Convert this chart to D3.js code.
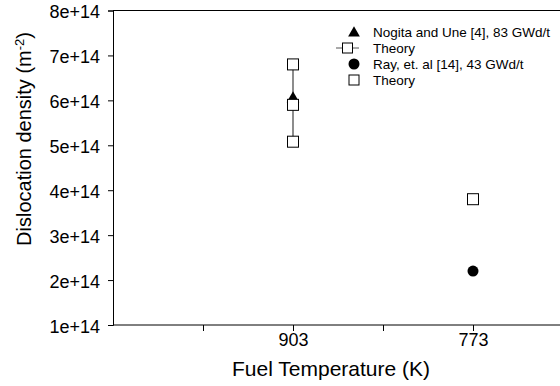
<!DOCTYPE html>
<html>
<head>
<meta charset="utf-8">
<script src="https://cdn.jsdelivr.net/npm/d3@7"></script>
<style>
  body { margin: 0; background: #fff; }
  text { font-family: "Liberation Sans", Arial, sans-serif; fill: #000; }
</style>
</head>
<body>
<svg id="chart" width="560" height="386"></svg>
<script>
// categories on the x axis (position index, label)
const tickPositions = [1, 2, 3, 4];
const tickLabels = { 2: "903", 4: "773" };
const yTicks = [1e14, 2e14, 3e14, 4e14, 5e14, 6e14, 7e14, 8e14];

// Nogita and Une, 83 GWd/t at 903 K
const nogita = [{ x: 2, y: 6.04e14 }];
// theory band at 903 K (low, mid, high)
const theory903 = [{ x: 2, y: 5.08e14 }, { x: 2, y: 5.9e14 }, { x: 2, y: 6.8e14 }];
// Ray et al, 43 GWd/t at 773 K
const ray = [{ x: 4, y: 2.2e14 }];
// theory at 773 K
const theory773 = [{ x: 4, y: 3.8e14 }];

const legendLabels = ["Nogita and Une [4], 83 GWd/t", "Theory", "Ray, et. al [14], 43 GWd/t", "Theory"];

const margin = { left: 113, top: 10, right: 0, bottom: 61 };
const width = 560, height = 386;

const svg = d3.select("#chart");

const x = d3.scaleLinear().domain([0, 5]).range([margin.left, margin.left + 450]);
const y = d3.scaleLinear().domain([1e14, 8e14]).range([325, 10.5]);

// frame top line
svg.append("line")
  .attr("x1", margin.left).attr("x2", width)
  .attr("y1", y(8e14)).attr("y2", y(8e14))
  .attr("stroke", "#000").attr("stroke-width", 1);

// y axis
const yAxis = svg.append("g")
  .attr("transform", "translate(" + margin.left + ",0)")
  .call(d3.axisLeft(y).tickValues(yTicks).tickSize(5).tickPadding(8)
    .tickFormat(d3.format(".0e")));
yAxis.select(".domain").attr("stroke", "#000");
yAxis.selectAll("text").style("font-size", "18px").attr("dy", "0.4em");

// x axis
const xAxis = svg.append("g")
  .attr("transform", "translate(0," + y(1e14) + ")")
  .call(d3.axisBottom(x).tickValues(tickPositions).tickSize(6).tickPadding(2)
    .tickFormat(d => tickLabels[d] || ""));
xAxis.select(".domain").attr("d", "M" + margin.left + ",0H" + width);
xAxis.selectAll("text").style("font-size", "18px");

// axis titles
svg.append("text")
  .attr("x", 331).attr("y", 376)
  .attr("text-anchor", "middle")
  .style("font-size", "21px")
  .text("Fuel Temperature (K)");

const yTitle = svg.append("text")
  .attr("transform", "translate(31,139) rotate(-90)")
  .attr("text-anchor", "middle")
  .style("font-size", "20px");
yTitle.append("tspan").text("Dislocation density (m");
yTitle.append("tspan").attr("dy", -7).style("font-size", "13px").text("-2");
yTitle.append("tspan").attr("dy", 7).text(")");

const tri = d3.symbol().type(d3.symbolTriangle);
const sq = 11;

// theory line at 903
svg.append("path")
  .datum(theory903)
  .attr("d", d3.line().x(d => x(d.x)).y(d => y(d.y)))
  .attr("stroke", "#808080").attr("stroke-width", 1.8).attr("fill", "none");

// Nogita triangle
svg.selectAll(".nog").data(nogita).enter().append("path")
  .attr("d", tri.size(70))
  .attr("transform", d => "translate(" + x(d.x) + "," + y(d.y) + ")")
  .attr("fill", "#000");

// theory squares
svg.selectAll(".th").data(theory903.concat(theory773)).enter().append("rect")
  .attr("x", d => x(d.x) - sq / 2).attr("y", d => y(d.y) - sq / 2)
  .attr("width", sq).attr("height", sq)
  .attr("fill", "#fff").attr("stroke", "#000").attr("stroke-width", 1);

// Ray circle
svg.selectAll(".ray").data(ray).enter().append("circle")
  .attr("cx", d => x(d.x)).attr("cy", d => y(d.y)).attr("r", 5.5)
  .attr("fill", "#000");

// legend
const lg = svg.append("g");
const rowY = [32, 48, 64, 80];
const mx = 354, ls = 10;
lg.append("path").attr("d", tri.size(60)).attr("transform", "translate(" + mx + "," + (rowY[0] + 1) + ")").attr("fill", "#000");
lg.append("line").attr("x1", 336).attr("x2", 359).attr("y1", rowY[1]).attr("y2", rowY[1]).attr("stroke", "#555");
lg.append("rect").attr("x", 347.5 - ls / 2).attr("y", rowY[1] - ls / 2).attr("width", ls).attr("height", ls)
  .attr("fill", "#fff").attr("stroke", "#000");
lg.append("circle").attr("cx", mx).attr("cy", rowY[2]).attr("r", 5.5).attr("fill", "#000");
lg.append("rect").attr("x", mx - ls / 2).attr("y", rowY[3] - ls / 2).attr("width", ls).attr("height", ls)
  .attr("fill", "#fff").attr("stroke", "#000");
lg.selectAll(".lt").data(legendLabels).enter().append("text")
  .attr("x", 373).attr("y", (d, i) => rowY[i] + 5)
  .style("font-size", "13.5px")
  .text(d => d);
</script>
</body>
</html>
